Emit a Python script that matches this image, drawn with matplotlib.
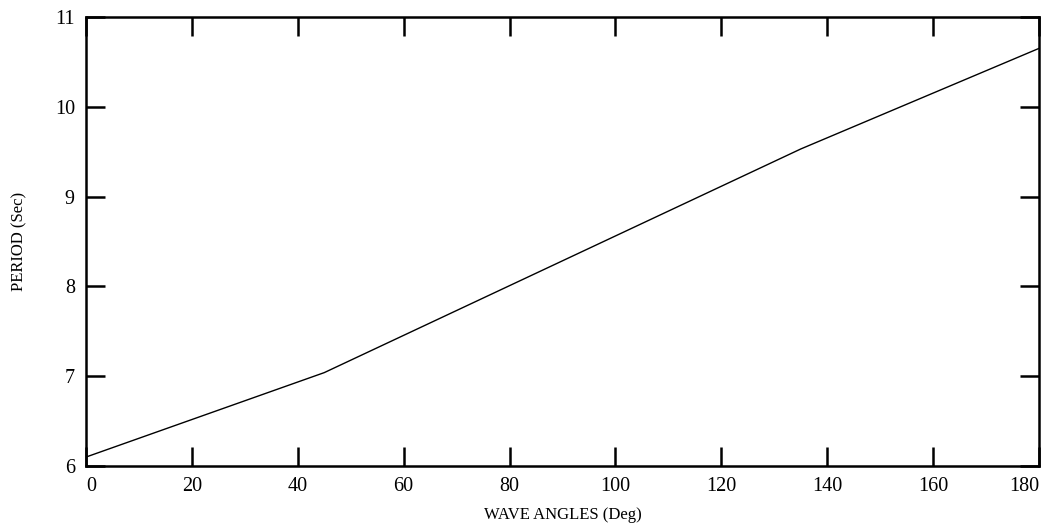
import matplotlib
matplotlib.use("Agg")
from matplotlib import pyplot as plt

# wave angle vs period
angles = [0, 45, 135, 180]
period = [6.1, 7.04, 9.53, 10.65]

x_ticks = [0, 20, 40, 60, 80, 100, 120, 140, 160, 180]
y_ticks = [6, 7, 8, 9, 10, 11]

plt.rcParams['font.family'] = ['Liberation Serif', 'DejaVu Serif']

fig = plt.figure(figsize=(10.47, 5.29), dpi=100)
ax = fig.add_axes([0.0821, 0.119, 0.9103, 0.849])

ax.plot(angles, period, color='black', linewidth=1.0)

ax.set_xlim(0, 180)
ax.set_ylim(6, 11)
ax.set_xticks(x_ticks)
ax.set_yticks(y_ticks)
ax.tick_params(direction='in', length=14, width=1.8, top=True, right=True,
               labelsize=14.5, pad=8)
for s in ax.spines.values():
    s.set_linewidth(1.8)

# last x label sits inside the frame, like the original
ax.get_xticklabels()[-1].set_horizontalalignment('right')
ax.get_xticklabels()[0].set_horizontalalignment('left')

ax.set_xlabel("WAVE ANGLES (Deg)", fontsize=12, labelpad=8)
ax.set_ylabel("PERIOD (Sec)", fontsize=12, labelpad=20)

plt.savefig("out.png", dpi=100)
